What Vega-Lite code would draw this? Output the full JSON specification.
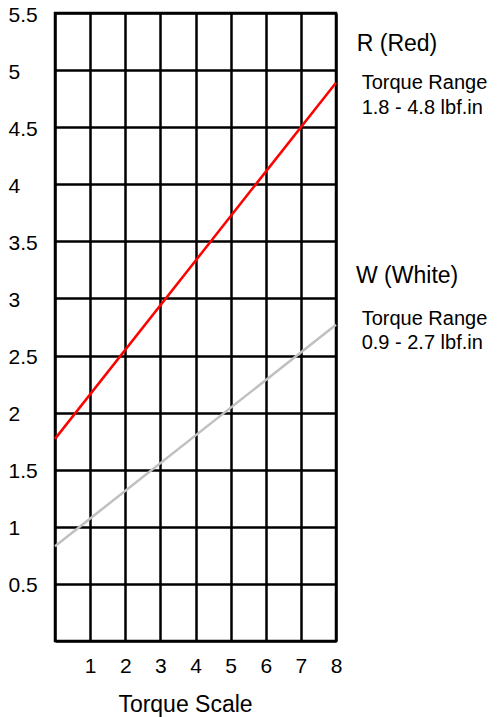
{
  "$schema": "https://vega.github.io/schema/vega-lite/v6.json",
  "autosize": {"type": "none"},
  "padding": {"left": 55, "top": 13, "right": 161, "bottom": 76},
  "width": 281,
  "height": 628,
  "background": "white",
  "config": {
    "font": "Liberation Sans",
    "view": {"stroke": "black", "strokeWidth": 2.5},
    "axis": {
      "grid": true,
      "gridColor": "black",
      "gridWidth": 2.5,
      "gridOpacity": 1,
      "domain": false,
      "ticks": false,
      "labelFont": "Liberation Sans",
      "labelColor": "black",
      "labelFontSize": 21,
      "labelFlush": false,
      "labelOverlap": false,
      "titleFont": "Liberation Sans",
      "titleColor": "black",
      "titleFontWeight": "normal"
    }
  },
  "datasets": {
    "lines": [
      {"series": "R (Red)", "scale": 0, "torque": 1.77},
      {"series": "R (Red)", "scale": 8, "torque": 4.89},
      {"series": "W (White)", "scale": 0, "torque": 0.83},
      {"series": "W (White)", "scale": 8, "torque": 2.77}
    ],
    "notes": [
      {"role": "head", "text": "R (Red)", "scale": 8.59, "torque": 5.23},
      {"role": "sub", "text": "Torque Range", "scale": 8.73, "torque": 4.89},
      {"role": "sub", "text": "1.8 - 4.8 lbf.in", "scale": 8.73, "torque": 4.67},
      {"role": "head", "text": "W (White)", "scale": 8.57, "torque": 3.2},
      {"role": "sub", "text": "Torque Range", "scale": 8.73, "torque": 2.82},
      {"role": "sub", "text": "0.9 - 2.7 lbf.in", "scale": 8.73, "torque": 2.61}
    ]
  },
  "encoding": {
    "x": {
      "field": "scale", "type": "quantitative",
      "scale": {"domain": [0, 8], "nice": false},
      "axis": {
        "values": [0, 1, 2, 3, 4, 5, 6, 7, 8],
        "labelExpr": "datum.value == 0 ? '' : datum.label",
        "labelPadding": 14,
        "labelBaseline": "top",
        "title": "Torque Scale",
        "titleFontSize": 23,
        "titlePadding": 17,
        "titleX": 130
      }
    },
    "y": {
      "field": "torque", "type": "quantitative",
      "scale": {"domain": [0, 5.5], "nice": false},
      "axis": {
        "values": [0, 0.5, 1, 1.5, 2, 2.5, 3, 3.5, 4, 4.5, 5, 5.5],
        "format": "~g",
        "labelExpr": "datum.value == 0 ? '' : datum.label",
        "labelAlign": "left",
        "labelBaseline": "middle",
        "labelPadding": 47,
        "labelOffset": 2,
        "title": null
      }
    }
  },
  "layer": [
    {
      "data": {"name": "lines"},
      "mark": {"type": "line", "strokeWidth": 2.5},
      "encoding": {
        "color": {
          "field": "series", "type": "nominal",
          "scale": {"domain": ["R (Red)", "W (White)"], "range": ["#ff0000", "#c0c0c0"]},
          "legend": null
        }
      }
    },
    {
      "data": {"name": "notes"},
      "transform": [{"filter": "datum.role == 'head'"}],
      "mark": {"type": "text", "align": "left", "baseline": "middle", "fontSize": 23, "color": "black"},
      "encoding": {
        "text": {"field": "text"}
      }
    },
    {
      "data": {"name": "notes"},
      "transform": [{"filter": "datum.role == 'sub'"}],
      "mark": {"type": "text", "align": "left", "baseline": "middle", "fontSize": 20, "color": "black"},
      "encoding": {
        "text": {"field": "text"}
      }
    }
  ]
}
